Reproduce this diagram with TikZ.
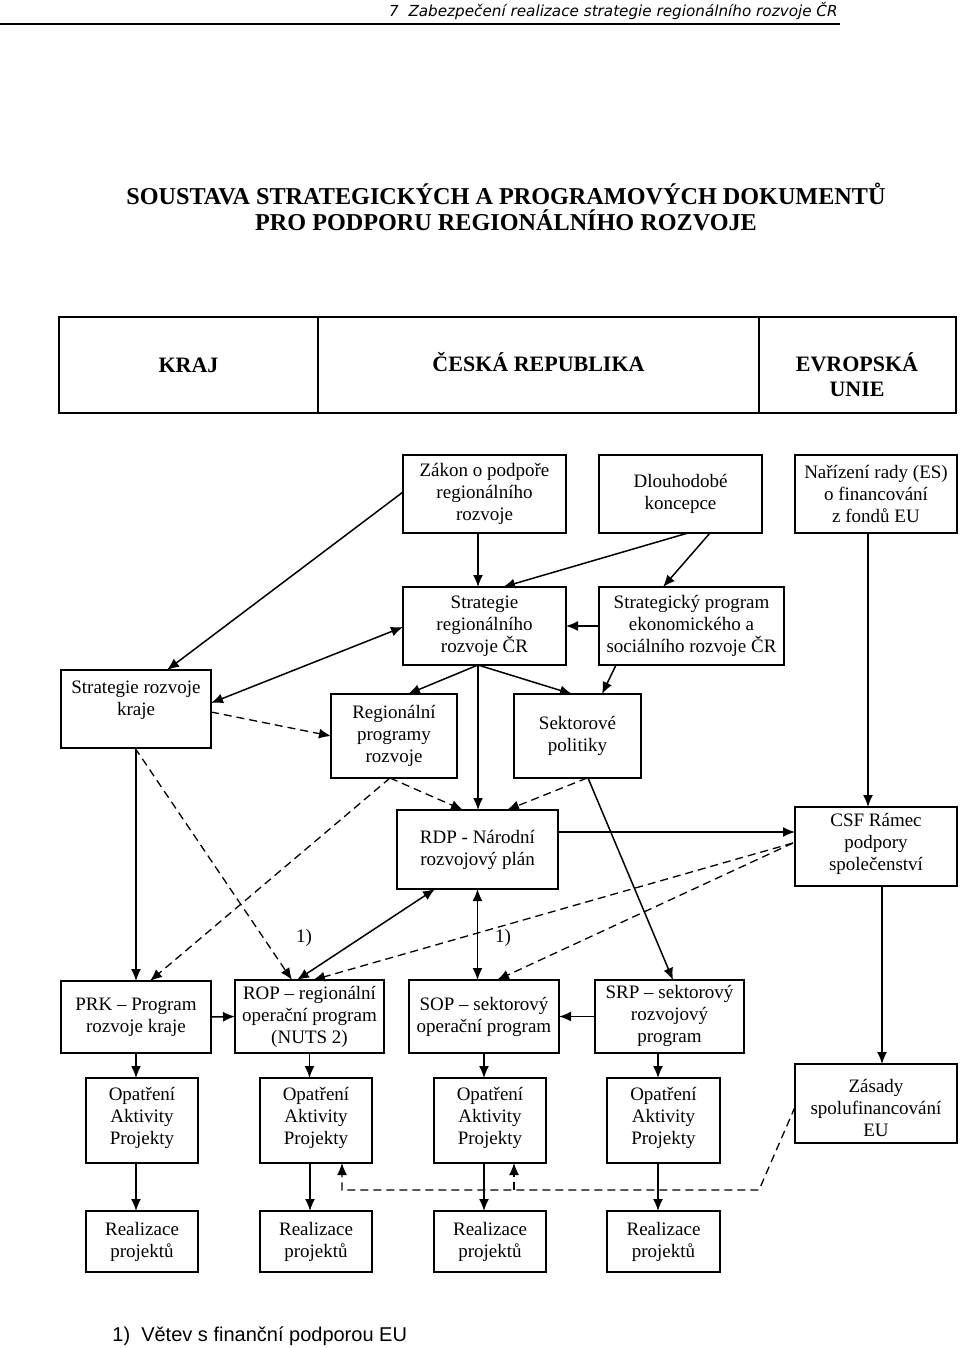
\documentclass[tikz,border=0pt]{standalone}
\usepackage{fontspec}
\setmainfont{Liberation Serif}
\newfontfamily\hdrfont{DejaVu Sans}
\newfontfamily\fnfont{Liberation Sans}
\usetikzlibrary{arrows.meta,calc}
\tikzset{
  box/.style={draw, line width=0.9pt, inner sep=0pt, outer sep=0pt, align=center,
    font=\fontsize{9.5}{11}\selectfont},
  hbox/.style={draw, line width=1pt, inner sep=0pt, outer sep=0pt, align=center,
    font=\fontsize{11}{12.5}\selectfont\bfseries},
  conn/.style={line width=0.75pt, -{Latex[length=6pt,width=5pt]}},
  dconn/.style={conn, line width=0.65pt, dash pattern=on 4pt off 2.5pt},
  twoway/.style={line width=0.75pt, {Latex[length=6pt,width=5pt]}-{Latex[length=6pt,width=5pt]}},
  lbl/.style={inner sep=0pt, font=\fontsize{9.5}{11}\selectfont},
}
\newcommand\mybox[7][box]{\node[#1, minimum width={(#5-#3)*0.5pt}, minimum height={(#6-#4)*0.5pt}] (#2) at ({(#3+#5)/2},{(#4+#6)/2}) {#7};}
\newcommand\dn[1]{\rule[-#1]{0pt}{0pt}}
\begin{document}
\begin{tikzpicture}[x=0.5pt,y=-0.5pt]
\useasboundingbox (0,0) rectangle (960,1348);
% running header
\node[anchor=base east, inner sep=0pt, font=\hdrfont\itshape\fontsize{7.6}{9}\selectfont] (hdr) at (838,17) {7\ \ Zabezpečení realizace strategie regionálního rozvoje ČR};
\draw[line width=0.8pt] (0,24) -- (840,24);
% title
\node[align=center, inner sep=0pt, font=\fontsize{12.1}{13}\selectfont\bfseries] (title) at (506,207)
  {SOUSTAVA STRATEGICKÝCH A PROGRAMOVÝCH DOKUMENTŮ\\PRO PODPORU REGIONÁLNÍHO ROZVOJE};
% header table
\mybox[hbox]{kraj}{59}{317}{318}{413}{KRAJ}
\mybox[hbox]{cr}{318}{317}{759}{413}{ČESKÁ REPUBLIKA\dn{3pt}}
\mybox[hbox]{eu}{759}{317}{956}{413}{}
\node[align=center, inner sep=0pt, font=\fontsize{11}{12.5}\selectfont\bfseries] (eutext) at (857,375) {EVROPSKÁ\\UNIE};
% boxes
\mybox{zakon}{403}{455}{566}{533}{Zákon o podpoře\\regionálního\\rozvoje}
\mybox{dlouho}{599}{455}{762}{533}{Dlouhodobé\\koncepce}
\mybox{nariz}{795}{455}{957}{533}{Nařízení rady (ES)\\o financování\\z fondů EU}
\mybox{strcr}{403}{587}{566}{665}{Strategie\\regionálního\\rozvoje ČR}
\mybox{strprog}{599}{587}{784}{665}{Strategický program\\ekonomického a\\sociálního rozvoje ČR}
\mybox{srk}{61}{670}{211}{748}{Strategie rozvoje\\kraje\\~}
\mybox{regprog}{331}{694}{457}{778}{Regionální\\programy\\rozvoje}
\mybox{sekt}{514}{694}{641}{778}{Sektorové\\politiky}
\mybox{rdp}{397}{810}{558}{889}{RDP - Národní\\rozvojový plán}
\mybox{csf}{795}{807}{957}{886}{CSF Rámec\\podpory\\společenství\dn{4.5pt}}
\mybox{prk}{61}{981}{211}{1053}{PRK -- Program\\rozvoje kraje}
\mybox{rop}{235}{980}{384}{1053}{ROP -- regionální\\operační program\\(NUTS 2)}
\mybox{sop}{409}{980}{559}{1053}{SOP -- sektorový\\operační program}
\mybox{srp}{595}{980}{744}{1053}{SRP -- sektorový\\rozvojový\\program\dn{2.5pt}}
\mybox{op1}{86}{1078}{198}{1163}{Opatření\\Aktivity\\Projekty\dn{4.5pt}}
\mybox{op2}{260}{1078}{372}{1163}{Opatření\\Aktivity\\Projekty\dn{4.5pt}}
\mybox{op3}{434}{1078}{546}{1163}{Opatření\\Aktivity\\Projekty\dn{4.5pt}}
\mybox{op4}{607}{1078}{720}{1163}{Opatření\\Aktivity\\Projekty\dn{4.5pt}}
\mybox{zas}{795}{1064}{957}{1143}{\rule{0pt}{11.5pt}Zásady\\spolufinancování\\EU}
\mybox{re1}{86}{1211}{198}{1272}{Realizace\\projektů}
\mybox{re2}{260}{1211}{372}{1272}{Realizace\\projektů}
\mybox{re3}{434}{1211}{546}{1272}{Realizace\\projektů}
\mybox{re4}{607}{1211}{720}{1272}{Realizace\\projektů}
% labels
\node[lbl] (l1) at (304,938) {1)};
\node[lbl] (l2) at (503,938) {1)};
\node[anchor=base west, inner sep=0pt, font=\fnfont\fontsize{10}{12}\selectfont] (fn) at (112,1341) {1)\ \ Větev s finanční podporou EU};
% connectors top part
\draw[conn] ($(zakon.west)+(0,-2)$) -- ($(srk.north)+(31,0)$);
\draw[conn] ($(zakon.south)+(-6.5,0)$) -- ($(strcr.north)+(-6.5,0)$);
\draw[twoway] ($(strcr.west)+(0,1)$) -- ($(srk.east)+(0,-6)$);
\draw[dconn] ($(srk.east)+(0,3)$) -- (regprog.west);
\draw[conn] ($(strcr.south)+(-6.5,0)$) -- ($(regprog.north)+(14,0)$);
\draw[conn] ($(strcr.south)+(-6.5,0)$) -- ($(sekt.north)+(-5.5,0)$);
\draw[conn] ($(strcr.south)+(-6.5,0)$) -- ($(rdp.north)+(0.5,0)$);
\draw[conn] ($(dlouho.south)+(7.5,0)$) -- ($(strcr.north)+(18.5,0)$);
\draw[conn] ($(dlouho.south)+(29.5,0)$) -- ($(strprog.north)+(-28.5,0)$);
\draw[conn] (strprog.west) -- (strcr.east);
\draw[conn] ($(strprog.south)+(-75.5,0)$) -- ($(sekt.north)+(24.5,0)$);
\draw[conn] ($(nariz.south)+(-8,0)$) -- ($(csf.north)+(-8,0)$);
% middle
\draw[dconn] ($(regprog.south)+(-4,0)$) -- ($(rdp.north)+(-14.5,0)$);
\draw[dconn] ($(regprog.south)+(-4,0)$) -- ($(prk.north)+(14,0)$);
\draw[dconn] ($(srk.south)+(-1,0)$) -- ($(rop.north)+(-17.5,0)$);
\draw[conn] (srk.south) -- (prk.north);
\draw[dconn] ($(sekt.south)+(9.5,0)$) -- ($(rdp.north)+(29.5,0)$);
\draw[conn] ($(sekt.south)+(10.5,0)$) -- ($(srp.north)+(3.5,0)$);
\draw[conn] ($(rdp.east)+(0,-17.5)$) -- ($(csf.west)+(0,-14.5)$);
\draw[dconn] ($(csf.west)+(-2,-3.5)$) -- ($(rop.north)+(3.5,0)$);
\draw[dconn] ($(csf.west)+(-2,-3.5)$) -- ($(sop.north)+(13,0)$);
\draw[twoway] ($(rdp.south)+(-42.5,0)$) -- ($(rop.north)+(-12.5,0)$);
\draw[twoway] (rdp.south) -- ($(sop.north)+(-6.5,0)$);
% program row
\draw[conn] (prk.east) -- (rop.west);
\draw[conn] (srp.west) -- (sop.east);
\draw[conn] (prk.south) -- ($(op1.north)+(-6,0)$);
\draw[conn] (rop.south) -- ($(op2.north)+(-6.5,0)$);
\draw[conn] (sop.south) -- ($(op3.north)+(-6,0)$);
\draw[conn] ($(srp.south)+(-11.5,0)$) -- ($(op4.north)+(-5.5,0)$);
\draw[conn] ($(csf.south)+(6,0)$) -- ($(zas.north)+(6,0)$);
% realisation
\draw[conn] ($(op1.south)+(-6,0)$) -- ($(re1.north)+(-6,0)$);
\draw[conn] ($(op2.south)+(-6,0)$) -- ($(re2.north)+(-6,0)$);
\draw[conn] ($(op3.south)+(-6,0)$) -- ($(re3.north)+(-6,0)$);
\draw[conn] ($(op4.south)+(-5.5,0)$) -- ($(re4.north)+(-5.5,0)$);
% co-financing dashed branch
\coordinate (dj) at (514,1190);
\draw[dconn] ($(zas.west)+(0,3.5)$) -- ($(zas.west)+(-36,86.5)$) -| ($(op2.south)+(26,0)$);
\draw[dconn] (dj) -- ($(op3.south)+(24,0)$);
\end{tikzpicture}
\end{document}
